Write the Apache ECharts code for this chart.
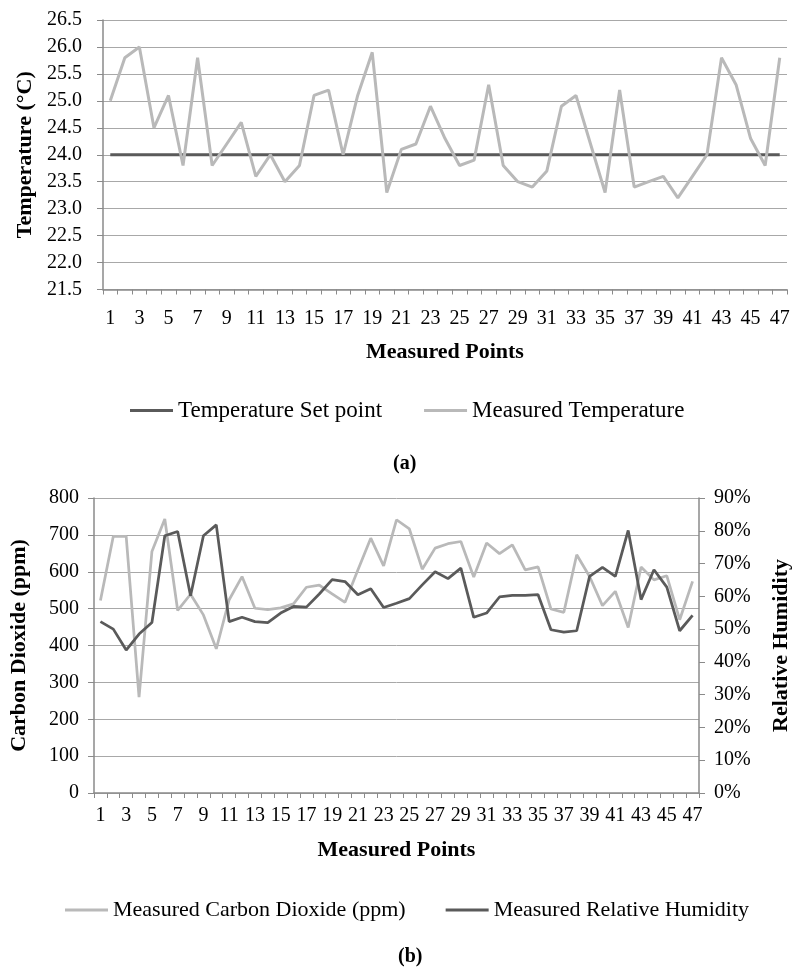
<!DOCTYPE html>
<html>
<head>
<meta charset="utf-8">
<script src="https://cdn.jsdelivr.net/npm/echarts@6/dist/echarts.min.js"></script>
<style>
html,body{margin:0;padding:0;background:#fff;}
#chart{width:800px;height:971px;}
</style>
</head>
<body>
<div id="chart"></div>
<script>
const categories = ['1','2','3','4','5','6','7','8','9','10','11','12','13','14','15','16','17','18','19','20','21','22','23','24','25','26','27','28','29','30','31','32','33','34','35','36','37','38','39','40','41','42','43','44','45','46','47'];
const tempSetPoint = [24.0,24.0,24.0,24.0,24.0,24.0,24.0,24.0,24.0,24.0,24.0,24.0,24.0,24.0,24.0,24.0,24.0,24.0,24.0,24.0,24.0,24.0,24.0,24.0,24.0,24.0,24.0,24.0,24.0,24.0,24.0,24.0,24.0,24.0,24.0,24.0,24.0,24.0,24.0,24.0,24.0,24.0,24.0,24.0,24.0,24.0,24.0];
const measuredTemp = [25.0,25.8,26.0,24.5,25.1,23.8,25.8,23.8,24.2,24.6,23.6,24.0,23.5,23.8,25.1,25.2,24.0,25.1,25.9,23.3,24.1,24.2,24.9,24.3,23.8,23.9,25.3,23.8,23.5,23.4,23.7,24.9,25.1,24.2,23.3,25.2,23.4,23.5,23.6,23.2,23.6,24.0,25.8,25.3,24.3,23.8,25.8];
const measuredCO2 = [522,696,696,260,655,743,495,539,483,391,524,587,501,497,502,513,558,564,540,517,605,691,616,741,716,607,664,676,682,586,678,649,673,605,613,499,490,646,587,508,547,449,613,578,589,470,574];
const measuredRH = [52.3,50.0,43.6,48.5,52.0,78.5,79.8,60.2,78.5,81.8,52.3,53.6,52.3,52.0,54.9,56.9,56.7,60.7,65.1,64.5,60.5,62.3,56.6,57.9,59.3,63.5,67.5,65.4,68.6,53.6,54.9,59.8,60.3,60.3,60.5,49.8,49.1,49.5,66.1,68.8,66.1,80.1,59.0,68.1,62.8,49.5,54.2];

const FONT = '"Liberation Serif","Times New Roman",serif';
const DARK = '#5a5a5a';
const LIGHT = '#b9b9b9';
const GRID = '#a8a8a8';
const AXIS = '#8a8a8a';
const TICK_SIZE = 20;

function xAxisCfg(gridIndex, labelMargin, nameGap) {
  return {
    type: 'category', gridIndex: gridIndex, data: categories, boundaryGap: true,
    axisLine: {show: true, lineStyle: {color: AXIS, width: 1.5}},
    axisTick: {show: true, interval: 0, length: 5, lineStyle: {color: AXIS}},
    axisLabel: {interval: 1, margin: labelMargin, color: '#000', fontFamily: FONT, fontSize: TICK_SIZE},
    splitLine: {show: false},
    name: 'Measured Points', nameLocation: 'middle', nameGap: nameGap,
    nameTextStyle: {fontFamily: FONT, fontSize: 22, fontWeight: 'bold', color: '#000'}
  };
}

const option = {
  animation: false,
  backgroundColor: '#fff',
  textStyle: {fontFamily: FONT},
  grid: [
    {left: 103, top: 20, width: 684, height: 269.5, containLabel: false},
    {left: 93, top: 498, width: 617, height: 295, containLabel: false}
  ],
  xAxis: [
    xAxisCfg(0, 19, 52),
    xAxisCfg(1, 13, 46)
  ],
  yAxis: [
    {
      type: 'value', gridIndex: 0, min: 21.5, max: 26.5, interval: 0.5,
      axisLine: {show: true, lineStyle: {color: AXIS, width: 1.5}},
      axisTick: {show: true, length: 6, lineStyle: {color: AXIS}},
      axisLabel: {margin: 21, color: '#000', fontFamily: FONT, fontSize: TICK_SIZE, formatter: v => v.toFixed(1)},
      splitLine: {show: true, lineStyle: {color: GRID, width: 1}},
      name: 'Temperature (°C)', nameLocation: 'middle', nameGap: 67, nameRotate: 90,
      nameTextStyle: {fontFamily: FONT, fontSize: 22, fontWeight: 'bold', color: '#000'}
    },
    {
      type: 'value', gridIndex: 1, min: 0, max: 800, interval: 100, position: 'left',
      axisLine: {show: true, lineStyle: {color: AXIS, width: 1.5}},
      axisTick: {show: true, length: 6, lineStyle: {color: AXIS}},
      axisLabel: {margin: 15, color: '#000', fontFamily: FONT, fontSize: TICK_SIZE},
      splitLine: {show: true, lineStyle: {color: GRID, width: 1}},
      name: 'Carbon Dioxide (ppm)', nameLocation: 'middle', nameGap: 64, nameRotate: 90,
      nameTextStyle: {fontFamily: FONT, fontSize: 22, fontWeight: 'bold', color: '#000'}
    },
    {
      type: 'value', gridIndex: 1, min: 0, max: 90, interval: 10, position: 'right',
      axisLine: {show: true, lineStyle: {color: AXIS, width: 1.5}},
      axisTick: {show: true, length: 6, lineStyle: {color: AXIS}},
      axisLabel: {margin: 15, color: '#000', fontFamily: FONT, fontSize: TICK_SIZE, formatter: '{value}%'},
      splitLine: {show: false},
      name: 'Relative Humidity', nameLocation: 'middle', nameGap: 71, nameRotate: 90,
      nameTextStyle: {fontFamily: FONT, fontSize: 22, fontWeight: 'bold', color: '#000'}
    }
  ],
  legend: [
    {
      left: 130, top: 399, padding: 0, itemGap: 42, itemWidth: 43, itemHeight: 3, icon: 'rect',
      textStyle: {fontFamily: FONT, fontSize: 23, color: '#000'},
      data: ['Temperature Set point', 'Measured Temperature']
    },
    {
      left: 65, top: 899, padding: 0, itemGap: 40, itemWidth: 43, itemHeight: 3, icon: 'rect',
      textStyle: {fontFamily: FONT, fontSize: 22, color: '#000'},
      data: ['Measured Carbon Dioxide (ppm)', 'Measured Relative Humidity']
    }
  ],
  graphic: [
    {type: 'text', left: 393, top: 454, style: {text: '(a)', font: 'bold 20px ' + FONT, fill: '#000'}},
    {type: 'text', left: 398, top: 947, style: {text: '(b)', font: 'bold 20px ' + FONT, fill: '#000'}}
  ],
  series: [
    {name: 'Temperature Set point', type: 'line', xAxisIndex: 0, yAxisIndex: 0, data: tempSetPoint,
     symbol: 'none', color: DARK, lineStyle: {color: DARK, width: 3}},
    {name: 'Measured Temperature', type: 'line', xAxisIndex: 0, yAxisIndex: 0, data: measuredTemp,
     symbol: 'none', color: LIGHT, lineStyle: {color: LIGHT, width: 3}},
    {name: 'Measured Carbon Dioxide (ppm)', type: 'line', xAxisIndex: 1, yAxisIndex: 1, data: measuredCO2,
     symbol: 'none', color: LIGHT, lineStyle: {color: LIGHT, width: 2.75}},
    {name: 'Measured Relative Humidity', type: 'line', xAxisIndex: 1, yAxisIndex: 2, data: measuredRH,
     symbol: 'none', color: DARK, lineStyle: {color: DARK, width: 2.75}}
  ]
};

const chart = echarts.init(document.getElementById('chart'), null, {renderer: 'canvas'});
chart.setOption(option);
</script>
</body>
</html>
